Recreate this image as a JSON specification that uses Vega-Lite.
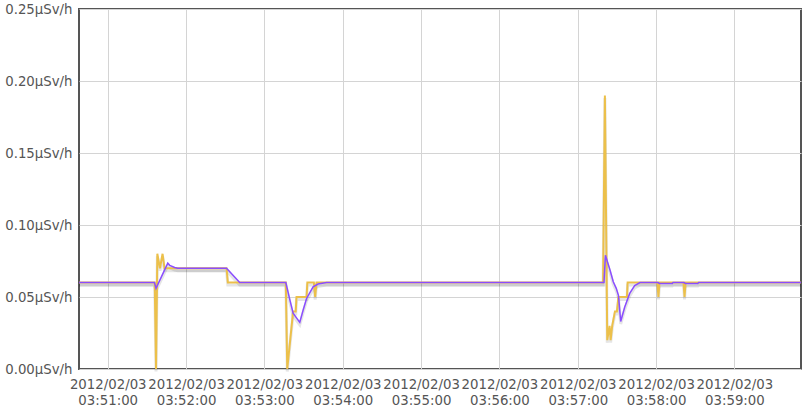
{
  "$schema": "https://vega.github.io/schema/vega-lite/v6.json",
  "width": 722,
  "height": 360,
  "autosize": {"type": "none"},
  "padding": {"left": 79, "top": 9, "right": 6, "bottom": 39},
  "background": "#ffffff",
  "config": {
    "view": {"stroke": "#555555", "strokeWidth": 2},
    "font": "DejaVu Sans",
    "axis": {
      "domain": false,
      "ticks": false,
      "grid": true,
      "gridColor": "#d4d4d4",
      "gridWidth": 1,
      "labelFont": "DejaVu Sans",
      "labelFontSize": 13.3,
      "labelColor": "#555555",
      "title": null
    }
  },
  "datasets": {
    "raw": [
      {"t": "2012-02-03T03:50:38.000Z", "v": 0.06},
      {"t": "2012-02-03T03:51:36.000Z", "v": 0.06},
      {"t": "2012-02-03T03:51:37.000Z", "v": 0.0},
      {"t": "2012-02-03T03:51:38.000Z", "v": 0.08},
      {"t": "2012-02-03T03:51:40.000Z", "v": 0.07},
      {"t": "2012-02-03T03:51:42.000Z", "v": 0.08},
      {"t": "2012-02-03T03:51:43.500Z", "v": 0.07},
      {"t": "2012-02-03T03:52:31.000Z", "v": 0.07},
      {"t": "2012-02-03T03:52:32.000Z", "v": 0.06},
      {"t": "2012-02-03T03:53:16.400Z", "v": 0.06},
      {"t": "2012-02-03T03:53:17.500Z", "v": 0.0},
      {"t": "2012-02-03T03:53:22.000Z", "v": 0.04},
      {"t": "2012-02-03T03:53:24.000Z", "v": 0.04},
      {"t": "2012-02-03T03:53:24.600Z", "v": 0.05},
      {"t": "2012-02-03T03:53:32.300Z", "v": 0.05},
      {"t": "2012-02-03T03:53:32.900Z", "v": 0.06},
      {"t": "2012-02-03T03:53:37.900Z", "v": 0.06},
      {"t": "2012-02-03T03:53:38.900Z", "v": 0.05},
      {"t": "2012-02-03T03:53:39.900Z", "v": 0.06},
      {"t": "2012-02-03T03:57:19.400Z", "v": 0.06},
      {"t": "2012-02-03T03:57:20.800Z", "v": 0.19},
      {"t": "2012-02-03T03:57:22.600Z", "v": 0.02},
      {"t": "2012-02-03T03:57:24.400Z", "v": 0.03},
      {"t": "2012-02-03T03:57:25.200Z", "v": 0.02},
      {"t": "2012-02-03T03:57:26.400Z", "v": 0.03},
      {"t": "2012-02-03T03:57:28.500Z", "v": 0.04},
      {"t": "2012-02-03T03:57:30.000Z", "v": 0.04},
      {"t": "2012-02-03T03:57:31.200Z", "v": 0.05},
      {"t": "2012-02-03T03:57:37.700Z", "v": 0.05},
      {"t": "2012-02-03T03:57:38.200Z", "v": 0.06},
      {"t": "2012-02-03T03:58:01.000Z", "v": 0.06},
      {"t": "2012-02-03T03:58:01.800Z", "v": 0.05},
      {"t": "2012-02-03T03:58:02.600Z", "v": 0.06},
      {"t": "2012-02-03T03:58:21.000Z", "v": 0.06},
      {"t": "2012-02-03T03:58:21.800Z", "v": 0.05},
      {"t": "2012-02-03T03:58:22.600Z", "v": 0.06},
      {"t": "2012-02-03T03:59:51.000Z", "v": 0.06}
    ],
    "avg": [
      {"t": "2012-02-03T03:50:38.000Z", "v": 0.06},
      {"t": "2012-02-03T03:51:35.800Z", "v": 0.06},
      {"t": "2012-02-03T03:51:37.000Z", "v": 0.056},
      {"t": "2012-02-03T03:51:46.000Z", "v": 0.0735},
      {"t": "2012-02-03T03:51:47.500Z", "v": 0.072},
      {"t": "2012-02-03T03:51:51.300Z", "v": 0.0705},
      {"t": "2012-02-03T03:51:53.600Z", "v": 0.07},
      {"t": "2012-02-03T03:52:31.000Z", "v": 0.07},
      {"t": "2012-02-03T03:52:41.100Z", "v": 0.06},
      {"t": "2012-02-03T03:53:16.400Z", "v": 0.06},
      {"t": "2012-02-03T03:53:19.500Z", "v": 0.048},
      {"t": "2012-02-03T03:53:22.000Z", "v": 0.0387},
      {"t": "2012-02-03T03:53:27.100Z", "v": 0.0324},
      {"t": "2012-02-03T03:53:29.700Z", "v": 0.041},
      {"t": "2012-02-03T03:53:32.300Z", "v": 0.049},
      {"t": "2012-02-03T03:53:37.300Z", "v": 0.057},
      {"t": "2012-02-03T03:53:41.100Z", "v": 0.059},
      {"t": "2012-02-03T03:53:47.600Z", "v": 0.06},
      {"t": "2012-02-03T03:57:20.100Z", "v": 0.06},
      {"t": "2012-02-03T03:57:21.200Z", "v": 0.079},
      {"t": "2012-02-03T03:57:24.700Z", "v": 0.0688},
      {"t": "2012-02-03T03:57:27.200Z", "v": 0.0606},
      {"t": "2012-02-03T03:57:29.500Z", "v": 0.056},
      {"t": "2012-02-03T03:57:31.200Z", "v": 0.051},
      {"t": "2012-02-03T03:57:32.900Z", "v": 0.033},
      {"t": "2012-02-03T03:57:36.000Z", "v": 0.043},
      {"t": "2012-02-03T03:57:39.800Z", "v": 0.0525},
      {"t": "2012-02-03T03:57:43.600Z", "v": 0.058},
      {"t": "2012-02-03T03:57:47.700Z", "v": 0.06},
      {"t": "2012-02-03T03:58:01.700Z", "v": 0.06},
      {"t": "2012-02-03T03:58:02.500Z", "v": 0.0594},
      {"t": "2012-02-03T03:58:12.400Z", "v": 0.0594},
      {"t": "2012-02-03T03:58:13.000Z", "v": 0.06},
      {"t": "2012-02-03T03:58:21.600Z", "v": 0.06},
      {"t": "2012-02-03T03:58:22.400Z", "v": 0.0594},
      {"t": "2012-02-03T03:58:32.000Z", "v": 0.0594},
      {"t": "2012-02-03T03:58:32.600Z", "v": 0.06},
      {"t": "2012-02-03T03:59:51.000Z", "v": 0.06}
    ]
  },
  "encoding": {
    "x": {
      "field": "t",
      "type": "temporal",
      "scale": {"type": "utc", "domain": [1328241038000, 1328241591000]},
      "axis": {
        "values": [1328241060000, 1328241120000, 1328241180000, 1328241240000, 1328241300000, 1328241360000, 1328241420000, 1328241480000, 1328241540000],
        "labelExpr": "[utcFormat(datum.value, '%Y/%m/%d'), utcFormat(datum.value, '%H:%M:%S')]",
        "labelLineHeight": 16,
        "labelPadding": 8,
        "labelFlush": false,
        "labelOverlap": false
      }
    },
    "y": {
      "field": "v",
      "type": "quantitative",
      "scale": {"domain": [0, 0.25], "nice": false, "zero": true},
      "axis": {
        "values": [0, 0.05, 0.1, 0.15, 0.2, 0.25],
        "labelExpr": "format(datum.value, '.2f') + 'μSv/h'",
        "labelPadding": 7,
        "labelFlush": false,
        "labelOverlap": false
      }
    }
  },
  "layer": [
    {"data": {"name": "raw"}, "mark": {"type": "line", "stroke": "#000000", "strokeOpacity": 0.1, "strokeWidth": 3, "yOffset": 2.5, "interpolate": "linear"}},
    {"data": {"name": "avg"}, "mark": {"type": "line", "stroke": "#000000", "strokeOpacity": 0.1, "strokeWidth": 3, "yOffset": 2.5, "interpolate": "linear"}},
    {"data": {"name": "raw"}, "mark": {"type": "line", "stroke": "#ecc04a", "strokeWidth": 2, "interpolate": "linear"}},
    {"data": {"name": "avg"}, "mark": {"type": "line", "stroke": "#8a4dff", "strokeWidth": 1.5, "interpolate": "linear"}}
  ]
}
